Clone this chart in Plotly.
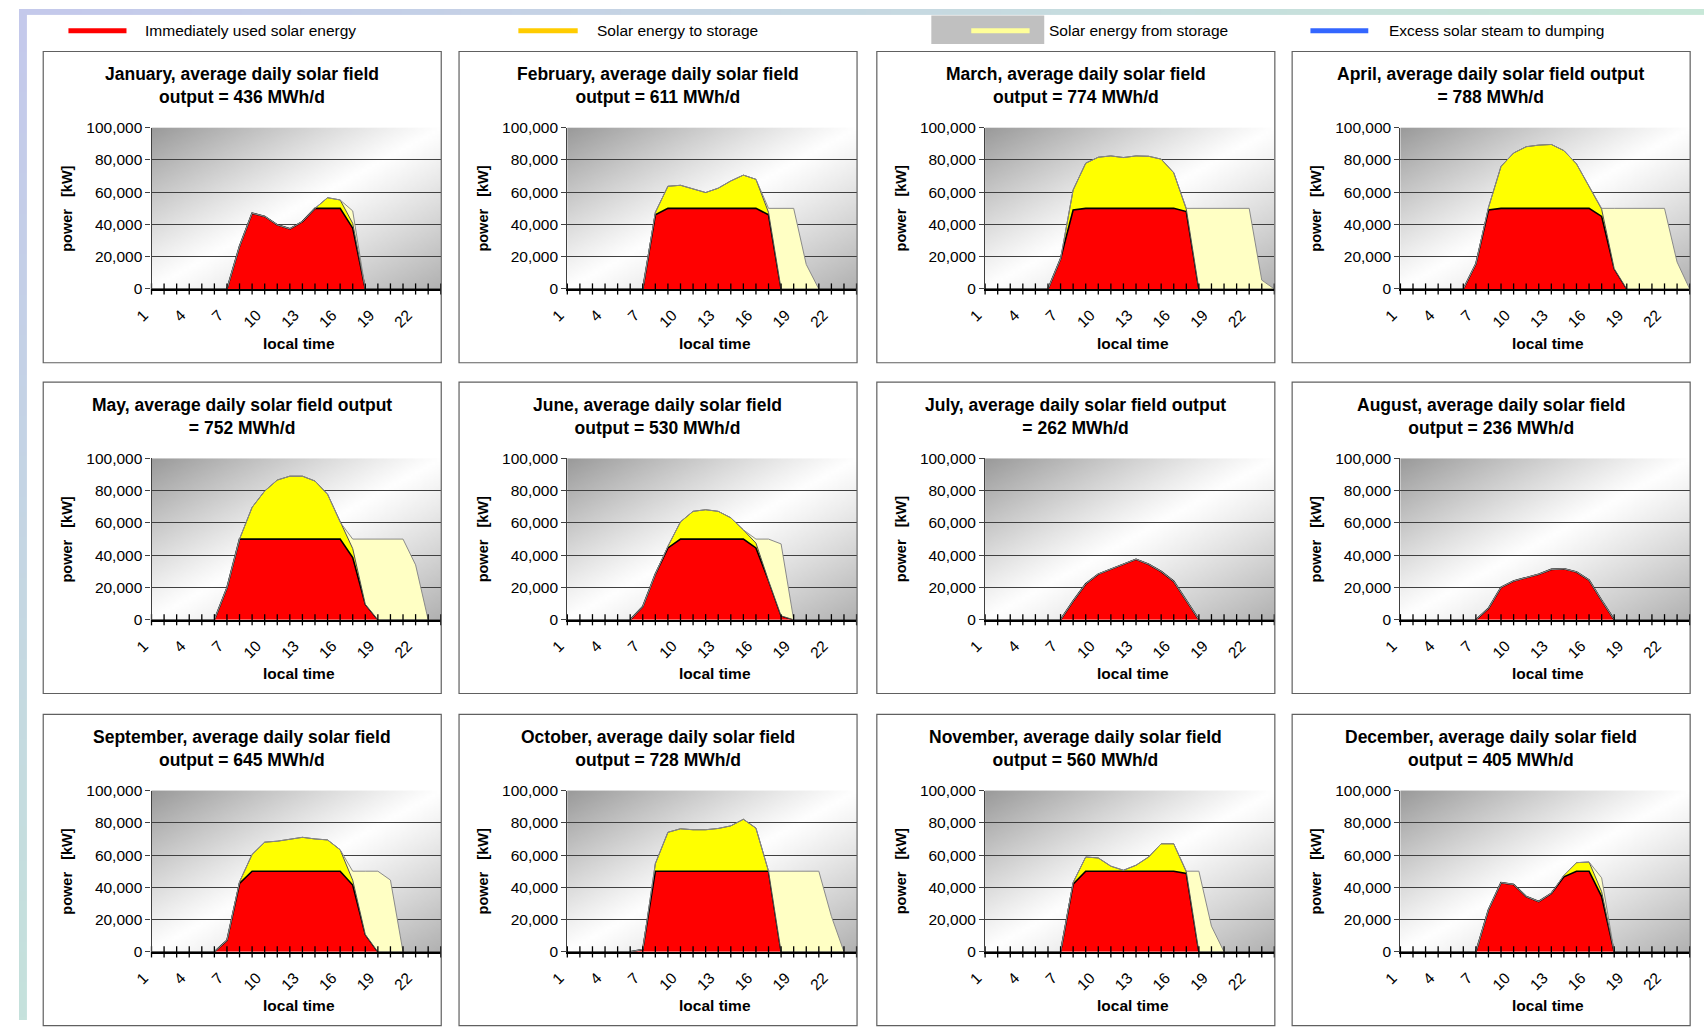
import base64
import struct
import zlib

import numpy as np
import plotly.graph_objects as go

# ---------------------------------------------------------------- data
HOURS = list(range(1, 25))
XTICK_VALS = [1, 4, 7, 10, 13, 16, 19, 22]
XTICK_TEXT = ["1", "4", "7", "10", "13", "16", "19", "22"]
YTICK_VALS = [0, 20000, 40000, 60000, 80000, 100000]

TITLES = [
    "January, average daily solar field<br>output = 436 MWh/d",
    "February, average daily solar field<br>output = 611 MWh/d",
    "March, average daily solar field<br>output = 774 MWh/d",
    "April, average daily solar field output<br>= 788 MWh/d",
    "May, average daily solar field output<br>= 752 MWh/d",
    "June, average daily solar field<br>output = 530 MWh/d",
    "July, average daily solar field output<br>= 262 MWh/d",
    "August, average daily solar field<br>output = 236 MWh/d",
    "September, average daily solar field<br>output = 645 MWh/d",
    "October, average daily solar field<br>output = 728 MWh/d",
    "November, average daily solar field<br>output = 560 MWh/d",
    "December, average daily solar field<br>output = 405 MWh/d",
]

LEGEND_NAMES = ["Immediately used solar energy", "Solar energy to storage",
                "Solar energy from storage", "Excess solar steam to dumping"]

# hourly values [kW], hour 1 .. 24
JAN_USED = [0, 0, 0, 0, 0, 0, 0, 26500, 47000, 45000, 39800, 37300, 41800, 50000, 50000, 50000, 37700, 0, 0, 0, 0, 0, 0, 0]
JAN_TO = [0, 0, 0, 0, 0, 0, 0, 0, 0, 0, 0, 0, 0, 0, 6600, 5200, 3000, 0, 0, 0, 0, 0, 0, 0]
JAN_FROM = [0, 0, 0, 0, 0, 0, 0, 0, 0, 0, 0, 0, 0, 0, 0, 0, 7700, 0, 0, 0, 0, 0, 0, 0]

FEB_USED = [0, 0, 0, 0, 0, 0, 0, 46000, 50000, 50000, 50000, 50000, 50000, 50000, 50000, 50000, 46000, 0, 0, 0, 0, 0, 0, 0]
FEB_TO = [0, 0, 0, 0, 0, 0, 0, 1500, 13700, 14300, 11900, 9800, 12500, 17000, 20600, 18000, 1500, 0, 0, 0, 0, 0, 0, 0]
FEB_FROM = [0, 0, 0, 0, 0, 0, 0, 0, 0, 0, 0, 0, 0, 0, 0, 0, 2500, 50000, 50000, 15200, 0, 0, 0, 0]

MAR_USED = [0, 0, 0, 0, 0, 0, 18700, 49000, 50000, 50000, 50000, 50000, 50000, 50000, 50000, 50000, 48000, 0, 0, 0, 0, 0, 0, 0]
MAR_TO = [0, 0, 0, 0, 0, 0, 0, 12400, 28000, 31700, 32500, 31500, 32500, 32300, 30500, 22100, 1500, 0, 0, 0, 0, 0, 0, 0]
MAR_FROM = [0, 0, 0, 0, 0, 0, 0, 0, 0, 0, 0, 0, 0, 0, 0, 0, 500, 50000, 50000, 50000, 50000, 50000, 5500, 0]

APR_USED = [0, 0, 0, 0, 0, 0, 15600, 49000, 50000, 50000, 50000, 50000, 50000, 50000, 50000, 50000, 45000, 12600, 0, 0, 0, 0, 0, 0]
APR_TO = [0, 0, 0, 0, 0, 0, 0, 1500, 26000, 34300, 38200, 39200, 39600, 35800, 27600, 13400, 4500, 0, 0, 0, 0, 0, 0, 0]
APR_FROM = [0, 0, 0, 0, 0, 0, 0, 0, 0, 0, 0, 0, 0, 0, 0, 0, 500, 37400, 50000, 50000, 50000, 50000, 16700, 0]

MAY_USED = [0, 0, 0, 0, 0, 0, 19800, 50000, 50000, 50000, 50000, 50000, 50000, 50000, 50000, 50000, 38500, 9600, 0, 0, 0, 0, 0, 0]
MAY_TO = [0, 0, 0, 0, 0, 0, 0, 0, 19700, 29800, 36600, 39000, 39000, 36000, 27800, 10500, 5600, 0, 0, 0, 0, 0, 0, 0]
MAY_FROM = [0, 0, 0, 0, 0, 0, 0, 0, 0, 0, 0, 0, 0, 0, 0, 0, 5900, 40400, 50000, 50000, 50000, 34000, 0, 0]

JUN_USED = [0, 0, 0, 0, 0, 0, 8100, 28300, 44500, 50000, 50000, 50000, 50000, 50000, 50000, 44500, 24300, 2400, 0, 0, 0, 0, 0, 0]
JUN_TO = [0, 0, 0, 0, 0, 0, 0, 0, 1000, 10700, 17200, 18200, 17200, 13200, 5700, 3000, 0, 0, 0, 0, 0, 0, 0, 0]
JUN_FROM = [0, 0, 0, 0, 0, 0, 0, 0, 0, 0, 0, 0, 0, 0, 0, 2500, 25700, 44600, 0, 0, 0, 0, 0, 0]

JUL_USED = [0, 0, 0, 0, 0, 0, 0, 11600, 22200, 28300, 31400, 34400, 37500, 34400, 29900, 23800, 12000, 0, 0, 0, 0, 0, 0, 0]
JUL_TO = [0] * 24
JUL_FROM = [0] * 24

AUG_USED = [0, 0, 0, 0, 0, 0, 0, 7000, 20100, 24000, 26200, 28200, 31200, 31600, 29600, 24600, 12000, 0, 0, 0, 0, 0, 0, 0]
AUG_TO = [0] * 24
AUG_FROM = [0] * 24

SEP_USED = [0, 0, 0, 0, 0, 0, 7100, 42400, 50000, 50000, 50000, 50000, 50000, 50000, 50000, 50000, 41400, 10800, 0, 0, 0, 0, 0, 0]
SEP_TO = [0, 0, 0, 0, 0, 0, 0, 1000, 10400, 18000, 18600, 19800, 21000, 20000, 19400, 13300, 3000, 0, 0, 0, 0, 0, 0, 0]
SEP_FROM = [0, 0, 0, 0, 0, 0, 0, 0, 0, 0, 0, 0, 0, 0, 0, 0, 5600, 39200, 50000, 44500, 0, 0, 0, 0]

OCT_USED = [0, 0, 0, 0, 0, 0, 1500, 50000, 50000, 50000, 50000, 50000, 50000, 50000, 50000, 50000, 50000, 0, 0, 0, 0, 0, 0, 0]
OCT_TO = [0, 0, 0, 0, 0, 0, 0, 4700, 24100, 26300, 25700, 25700, 26500, 28100, 32200, 26700, 0, 0, 0, 0, 0, 0, 0, 0]
OCT_FROM = [0, 0, 0, 0, 0, 0, 0, 0, 0, 0, 0, 0, 0, 0, 0, 0, 0, 50000, 50000, 50000, 50000, 22000, 0, 0]

NOV_USED = [0, 0, 0, 0, 0, 0, 0, 42000, 50000, 50000, 50000, 50000, 50000, 50000, 50000, 50000, 48600, 0, 0, 0, 0, 0, 0, 0]
NOV_TO = [0, 0, 0, 0, 0, 0, 0, 1000, 8800, 8200, 3100, 600, 3700, 8800, 17000, 17000, 1000, 0, 0, 0, 0, 0, 0, 0]
NOV_FROM = [0, 0, 0, 0, 0, 0, 0, 0, 0, 0, 0, 0, 0, 0, 0, 0, 400, 50000, 15900, 0, 0, 0, 0, 0]

DEC_USED = [0, 0, 0, 0, 0, 0, 0, 26100, 42900, 41800, 34300, 31200, 36300, 46500, 50000, 50000, 34300, 0, 0, 0, 0, 0, 0, 0]
DEC_TO = [0, 0, 0, 0, 0, 0, 0, 0, 0, 0, 0, 0, 0, 1000, 5300, 5700, 3000, 0, 0, 0, 0, 0, 0, 0]
DEC_FROM = [0, 0, 0, 0, 0, 0, 0, 0, 0, 0, 0, 0, 0, 0, 0, 0, 8600, 0, 0, 0, 0, 0, 0, 0]

USED = [JAN_USED, FEB_USED, MAR_USED, APR_USED, MAY_USED, JUN_USED,
        JUL_USED, AUG_USED, SEP_USED, OCT_USED, NOV_USED, DEC_USED]
TO_STORAGE = [JAN_TO, FEB_TO, MAR_TO, APR_TO, MAY_TO, JUN_TO,
              JUL_TO, AUG_TO, SEP_TO, OCT_TO, NOV_TO, DEC_TO]
FROM_STORAGE = [JAN_FROM, FEB_FROM, MAR_FROM, APR_FROM, MAY_FROM, JUN_FROM,
                JUL_FROM, AUG_FROM, SEP_FROM, OCT_FROM, NOV_FROM, DEC_FROM]

# ---------------------------------------------------------------- layout (px)
W, H = 1704, 1028
COL_PLOT_LEFT = [134, 554.5, 977, 1397]
PLOT_W = 292.5
ROW_PLOT_TOP = [120.7, 457, 794.7]
PLOT_H = 164
PANEL_LEFT_PAD = 109.5
PANEL_TOP_PAD = 77.5
PANEL_BOTTOM_PAD = 75

FONT = "Liberation Sans, Arial, sans-serif"
C_RED = "#ff0000"
C_YEL = "#ffff00"
C_LIGHT = "#ffffc4"
GRID = "#404040"


def png_uri(arr):
    """arr: HxWx3 uint8 -> data URI PNG."""
    h, w, _ = arr.shape
    raw = b"".join(b"\x00" + arr[i].tobytes() for i in range(h))

    def chunk(tag, data):
        c = struct.pack(">I", len(data)) + tag + data
        return c + struct.pack(">I", zlib.crc32(tag + data) & 0xFFFFFFFF)

    ihdr = struct.pack(">IIBBBBB", w, h, 8, 2, 0, 0, 0)
    png = (b"\x89PNG\r\n\x1a\n" + chunk(b"IHDR", ihdr)
           + chunk(b"IDAT", zlib.compress(raw, 9)) + chunk(b"IEND", b""))
    return "data:image/png;base64," + base64.b64encode(png).decode()


# plot-area gradient: grey corners (top-left / bottom-right), white diagonal
gw, gh = 120, 68
u = np.linspace(0, 1, gw)[None, :]
v = np.linspace(0, 1, gh)[:, None]
t = (u + v) / 2.0
d = np.abs(2 * t - 1) ** 1.1
g0, g1 = 155, 178
val = np.where(t < 0.5, 255 - (255 - g0) * d, 255 - (255 - g1) * d)
garr = np.clip(np.repeat(val[:, :, None], 3, axis=2), 0, 255).astype(np.uint8)
PLOT_BG = png_uri(garr)

# page border strips (top and left edge of the slide)
c_a = np.array([196, 201, 236], float)
c_b = np.array([200, 232, 216], float)
c_c = np.array([198, 226, 220], float)
s = np.linspace(0, 1, 200)
top_strip = (c_a[None, :] * (1 - s[:, None]) + c_b[None, :] * s[:, None])[None, :, :].astype(np.uint8)
left_strip = (c_a[None, :] * (1 - s[:, None]) + c_c[None, :] * s[:, None])[:, None, :].astype(np.uint8)

fig = go.Figure()
images = [
    dict(source=png_uri(top_strip), xref="paper", yref="paper", x=0, y=1, sizex=1, sizey=6 / H,
         sizing="stretch", xanchor="left", yanchor="top", layer="below"),
    dict(source=png_uri(left_strip), xref="paper", yref="paper", x=0, y=1, sizex=8 / W, sizey=1,
         sizing="stretch", xanchor="left", yanchor="top", layer="below"),
]
shapes = []
annotations = []
axes = {}

for i in range(12):
    r, c = divmod(i, 4)
    left = COL_PLOT_LEFT[c]
    top = ROW_PLOT_TOP[r]
    right = left + PLOT_W
    bottom = top + PLOT_H
    n = i + 1
    xa = "x" if n == 1 else f"x{n}"
    ya = "y" if n == 1 else f"y{n}"

    axes["xaxis" if n == 1 else f"xaxis{n}"] = dict(
        domain=[left / W, right / W], anchor=ya, range=[1, 24],
        tickvals=XTICK_VALS, ticktext=XTICK_TEXT, tickangle=-45, ticks="",
        ticklabelshift=-8, ticklabelstandoff=9,
        showgrid=False, zeroline=False, showline=True, linecolor="black", linewidth=2,
        tickfont=dict(family=FONT, size=15.5, color="black"), fixedrange=True)
    axes["yaxis" if n == 1 else f"yaxis{n}"] = dict(
        domain=[1 - bottom / H, 1 - top / H], anchor=xa, range=[0, 100000],
        tickvals=YTICK_VALS, tickformat=",d", ticks="outside", ticklen=5,
        tickcolor=GRID, tickwidth=1.2, showgrid=True, gridcolor=GRID, gridwidth=1.2,
        zeroline=False, showline=True, linecolor=GRID, linewidth=1.2,
        tickfont=dict(family=FONT, size=15.5, color="black"), fixedrange=True)

    sg = f"m{n}"
    fig.add_trace(go.Scatter(x=HOURS, y=USED[i], xaxis=xa, yaxis=ya, stackgroup=sg,
                             mode="lines", line=dict(color="black", width=1.6),
                             fillcolor=C_RED, hoverinfo="skip", showlegend=False))
    fig.add_trace(go.Scatter(x=HOURS, y=TO_STORAGE[i], xaxis=xa, yaxis=ya, stackgroup=sg,
                             mode="lines", line=dict(color="#505050", width=1),
                             fillcolor=C_YEL, hoverinfo="skip", showlegend=False))
    fig.add_trace(go.Scatter(x=HOURS, y=FROM_STORAGE[i], xaxis=xa, yaxis=ya, stackgroup=sg,
                             mode="lines", line=dict(color="#8a8a8a", width=1),
                             fillcolor=C_LIGHT, hoverinfo="skip", showlegend=False))
    # crossing tick marks on the category axis
    fig.add_trace(go.Scatter(x=HOURS, y=[0] * len(HOURS), xaxis=xa, yaxis=ya, mode="markers",
                             marker=dict(symbol="line-ns", size=8,
                                         line=dict(color="black", width=1.3)),
                             cliponaxis=False, hoverinfo="skip", showlegend=False))

    images.append(dict(source=PLOT_BG, xref="paper", yref="paper", x=left / W, y=1 - top / H,
                       sizex=PLOT_W / W, sizey=PLOT_H / H, sizing="stretch",
                       xanchor="left", yanchor="top", layer="below"))

    p_left = left - PANEL_LEFT_PAD
    p_top = top - PANEL_TOP_PAD
    p_bottom = bottom + PANEL_BOTTOM_PAD
    shapes.append(dict(type="rect", xref="paper", yref="paper",
                       x0=p_left / W, x1=(right + 0.5) / W,
                       y0=1 - p_bottom / H, y1=1 - p_top / H,
                       line=dict(color="#606060", width=1.2), fillcolor="rgba(0,0,0,0)",
                       layer="above"))

    annotations.append(dict(text=TITLES[i], xref="paper", yref="paper",
                            x=((p_left + right) / 2) / W, y=1 - (top - 42.5) / H,
                            xanchor="center", yanchor="middle", showarrow=False, align="center",
                            font=dict(family=FONT, size=17.5, color="black", weight="bold")))
    annotations.append(dict(text="local time", xref="paper", yref="paper",
                            x=((left + right) / 2 + 3) / W, y=1 - (bottom + 55) / H,
                            xanchor="center", yanchor="middle", showarrow=False,
                            font=dict(family=FONT, size=15.5, color="black", weight="bold")))
    annotations.append(dict(text="power   [kW]", xref="paper", yref="paper",
                            x=(left - 85) / W, y=1 - (top + PLOT_H / 2) / H, textangle=-90,
                            xanchor="center", yanchor="middle", showarrow=False,
                            font=dict(family=FONT, size=14.5, color="black", weight="bold")))

# ---------------------------------------------------------------- legend row
LEG_Y = 22
shapes.append(dict(type="rect", xref="paper", yref="paper", x0=922.6 / W, x1=1036.8 / W,
                   y0=1 - 35.7 / H, y1=1 - 6.7 / H, line=dict(width=0), fillcolor="#c0c0c0",
                   layer="above"))
legend_keys = [(50, 108.7, "#ff0000", 125), (505, 565, "#ffcc00", 583),
               (963, 1022, "#ffff99", 1039.5), (1306, 1364.5, "#3366ff", 1383)]
for (x0, x1, col, tx), name in zip(legend_keys, LEGEND_NAMES):
    shapes.append(dict(type="line", xref="paper", yref="paper", x0=x0 / W, x1=x1 / W,
                       y0=1 - LEG_Y / H, y1=1 - LEG_Y / H, line=dict(color=col, width=5),
                       layer="above"))
    annotations.append(dict(text=name, xref="paper", yref="paper", x=tx / W, y=1 - LEG_Y / H,
                            xanchor="left", yanchor="middle", showarrow=False,
                            font=dict(family=FONT, size=15.5, color="black")))

fig.update_layout(
    autosize=True, margin=dict(l=0, r=0, t=0, b=0),
    paper_bgcolor="white", plot_bgcolor="rgba(0,0,0,0)",
    images=images, shapes=shapes, annotations=annotations, showlegend=False,
    font=dict(family=FONT, color="black"), **axes)

# the figure div covers the browser window exactly
fig.write_html("out.html", config={"displayModeBar": False, "responsive": True},
               default_width="100vw; position:fixed; left:0px; top:0px",
               default_height="100vh")
